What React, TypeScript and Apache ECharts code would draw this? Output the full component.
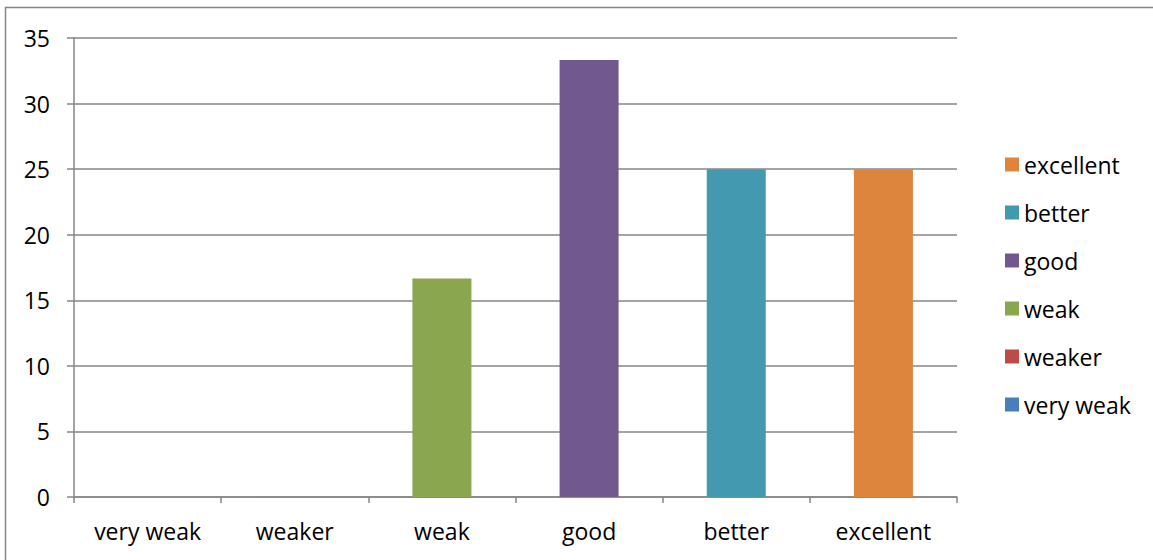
import React, { useEffect, useRef } from "react";
import * as echarts from "echarts";

const categories = ["very weak", "weaker", "weak", "good", "better", "excellent"];
const values = [0, 0, 16.67, 33.33, 25, 25];
const colors = ["#4A7EBB", "#BE4B48", "#8AA64F", "#71588F", "#4299B0", "#DD853C"];
const yTicks = { min: 0, max: 35, interval: 5 };

export default function App() {
  const ref = useRef<HTMLDivElement>(null);
  useEffect(() => {
    const chart = echarts.init(ref.current!, null, { renderer: "svg" });
    const font = "Open Sans";
    const series = categories.map((name, i) => ({
      name,
      type: "bar",
      stack: "all",
      barWidth: 59,
      itemStyle: { color: colors[i] },
      data: categories.map((_, j) => (j === i ? values[i] : null)),
    }));
    chart.setOption({
      animation: false,
      backgroundColor: "#ffffff",
      textStyle: { fontFamily: font },
      grid: { left: 74, right: 196, top: 38, bottom: 63 },
      legend: {
        orient: "vertical",
        left: 1000,
        top: 148,
        itemWidth: 14,
        itemHeight: 14,
        itemGap: 25,
        itemTextGap: 7,
        icon: "rect",
        data: [...categories].reverse(),
        textStyle: { fontSize: 23, color: "#000", fontFamily: font },
      },
      xAxis: {
        type: "category",
        data: categories,
        axisLine: { lineStyle: { color: "#868686", width: 1.5 } },
        axisTick: { show: true, length: 6, lineStyle: { color: "#868686", width: 1.5 } },
        axisLabel: { color: "#000", fontSize: 23, margin: 22, fontFamily: font },
      },
      yAxis: {
        type: "value",
        min: yTicks.min,
        max: yTicks.max,
        interval: yTicks.interval,
        axisLine: { show: true, lineStyle: { color: "#868686", width: 1.5 } },
        axisTick: { show: true, length: 7, lineStyle: { color: "#868686", width: 1.5 } },
        splitLine: { lineStyle: { color: "#868686", width: 1.5 } },
        axisLabel: { color: "#000", fontSize: 23, margin: 24, fontFamily: font },
      },
      graphic: [
        {
          type: "rect",
          shape: { x: 5.5, y: 7.5, width: 1160, height: 560 },
          style: { fill: "none", stroke: "#868686", lineWidth: 1.5 },
          silent: true,
        },
      ],
      series,
    });
    return () => chart.dispose();
  }, []);
  return (
    <div
      ref={ref}
      style={{ position: "fixed", left: 0, top: 0, width: 1153, height: 560 }}
    />
  );
}
